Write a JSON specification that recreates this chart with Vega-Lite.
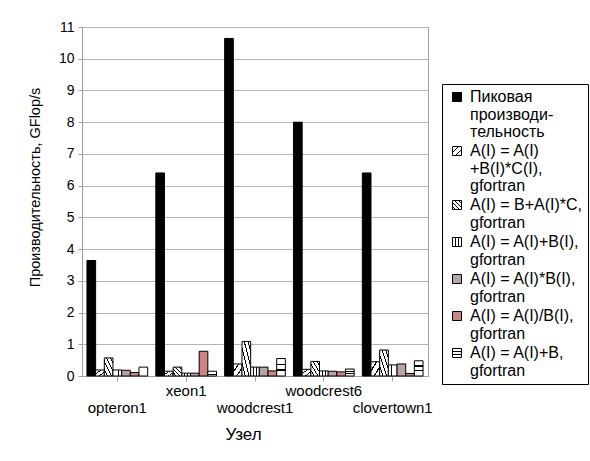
{
  "$schema": "https://vega.github.io/schema/vega-lite/v6.json",
  "width": 346,
  "height": 349,
  "autosize": {"type": "none"},
  "padding": {"left": 82, "top": 27, "right": 162, "bottom": 85},
  "background": "white",
  "config": {
    "font": "Liberation Sans",
    "view": {"stroke": "#a0a0a0", "strokeWidth": 1},
    "style": {"guide-label": {"lineHeight": 17.5}}
  },
  "datasets": {
    "perf": [
      {"node": "opteron1", "series": "Пиковая производительность", "value": 3.64},
      {"node": "opteron1", "series": "A(I) = A(I)+B(I)*C(I), gfortran", "value": 0.19},
      {"node": "opteron1", "series": "A(I) = B+A(I)*C, gfortran", "value": 0.57},
      {"node": "opteron1", "series": "A(I) = A(I)+B(I), gfortran", "value": 0.19},
      {"node": "opteron1", "series": "A(I) = A(I)*B(I), gfortran", "value": 0.18},
      {"node": "opteron1", "series": "A(I) = A(I)/B(I), gfortran", "value": 0.11},
      {"node": "opteron1", "series": "A(I) = A(I)+B, gfortran", "value": 0.28},
      {"node": "xeon1", "series": "Пиковая производительность", "value": 6.4},
      {"node": "xeon1", "series": "A(I) = A(I)+B(I)*C(I), gfortran", "value": 0.15},
      {"node": "xeon1", "series": "A(I) = B+A(I)*C, gfortran", "value": 0.28},
      {"node": "xeon1", "series": "A(I) = A(I)+B(I), gfortran", "value": 0.09},
      {"node": "xeon1", "series": "A(I) = A(I)*B(I), gfortran", "value": 0.09},
      {"node": "xeon1", "series": "A(I) = A(I)/B(I), gfortran", "value": 0.78},
      {"node": "xeon1", "series": "A(I) = A(I)+B, gfortran", "value": 0.15},
      {"node": "woodcrest1", "series": "Пиковая производительность", "value": 10.64},
      {"node": "woodcrest1", "series": "A(I) = A(I)+B(I)*C(I), gfortran", "value": 0.38},
      {"node": "woodcrest1", "series": "A(I) = B+A(I)*C, gfortran", "value": 1.09},
      {"node": "woodcrest1", "series": "A(I) = A(I)+B(I), gfortran", "value": 0.28},
      {"node": "woodcrest1", "series": "A(I) = A(I)*B(I), gfortran", "value": 0.28},
      {"node": "woodcrest1", "series": "A(I) = A(I)/B(I), gfortran", "value": 0.16},
      {"node": "woodcrest1", "series": "A(I) = A(I)+B, gfortran", "value": 0.55},
      {"node": "woodcrest6", "series": "Пиковая производительность", "value": 8.0},
      {"node": "woodcrest6", "series": "A(I) = A(I)+B(I)*C(I), gfortran", "value": 0.21},
      {"node": "woodcrest6", "series": "A(I) = B+A(I)*C, gfortran", "value": 0.46},
      {"node": "woodcrest6", "series": "A(I) = A(I)+B(I), gfortran", "value": 0.16},
      {"node": "woodcrest6", "series": "A(I) = A(I)*B(I), gfortran", "value": 0.15},
      {"node": "woodcrest6", "series": "A(I) = A(I)/B(I), gfortran", "value": 0.13},
      {"node": "woodcrest6", "series": "A(I) = A(I)+B, gfortran", "value": 0.22},
      {"node": "clovertown1", "series": "Пиковая производительность", "value": 6.4},
      {"node": "clovertown1", "series": "A(I) = A(I)+B(I)*C(I), gfortran", "value": 0.45},
      {"node": "clovertown1", "series": "A(I) = B+A(I)*C, gfortran", "value": 0.82},
      {"node": "clovertown1", "series": "A(I) = A(I)+B(I), gfortran", "value": 0.35},
      {"node": "clovertown1", "series": "A(I) = A(I)*B(I), gfortran", "value": 0.38},
      {"node": "clovertown1", "series": "A(I) = A(I)/B(I), gfortran", "value": 0.08},
      {"node": "clovertown1", "series": "A(I) = A(I)+B, gfortran", "value": 0.48}
    ]
  },
  "data": {"name": "perf"},
  "mark": {"type": "bar", "stroke": "black", "strokeWidth": 1},
  "encoding": {
    "x": {
      "field": "node",
      "type": "nominal",
      "sort": ["opteron1", "xeon1", "woodcrest1", "woodcrest6", "clovertown1"],
      "scale": {"paddingInner": 0.118, "paddingOuter": 0.072},
      "axis": {
        "title": "Узел",
        "titleFont": "Liberation Sans",
        "titleFontSize": 17,
        "titleFontWeight": "normal",
        "titleColor": "black",
        "titlePadding": 11,
        "titleX": 161,
        "labelAngle": 0,
        "labelFontSize": 15,
        "labelColor": "black",
        "labelPadding": 2,
        "labelBaseline": "top",
        "labelOverlap": false,
        "labelExpr": "(datum.value == 'xeon1' || datum.value == 'woodcrest6') ? [datum.label] : ['', datum.label]",
        "tickSize": 5,
        "tickColor": "#a0a0a0",
        "domainColor": "#a0a0a0"
      }
    },
    "xOffset": {
      "field": "series",
      "sort": ["Пиковая производительность", "A(I) = A(I)+B(I)*C(I), gfortran", "A(I) = B+A(I)*C, gfortran", "A(I) = A(I)+B(I), gfortran", "A(I) = A(I)*B(I), gfortran", "A(I) = A(I)/B(I), gfortran", "A(I) = A(I)+B, gfortran"],
      "scale": {"paddingInner": 0, "paddingOuter": 0}
    },
    "y": {
      "field": "value",
      "type": "quantitative",
      "scale": {"domain": [0, 11], "nice": false},
      "axis": {
        "title": "Производительность, GFlop/s",
        "titleFont": "Liberation Sans",
        "titleFontSize": 14.5,
        "titleFontWeight": "normal",
        "titleColor": "black",
        "titlePadding": 16,
        "titleY": 160,
        "values": [0, 1, 2, 3, 4, 5, 6, 7, 8, 9, 10, 11],
        "labelFontSize": 14,
        "labelColor": "black",
        "labelPadding": 4,
        "tickSize": 4,
        "tickColor": "#a0a0a0",
        "domainColor": "#a0a0a0",
        "gridColor": "#b4b4b4",
        "gridOpacity": 1
      }
    },
    "fill": {
      "field": "series",
      "type": "nominal",
      "scale": {
        "domain": ["Пиковая производительность", "A(I) = A(I)+B(I)*C(I), gfortran", "A(I) = B+A(I)*C, gfortran", "A(I) = A(I)+B(I), gfortran", "A(I) = A(I)*B(I), gfortran", "A(I) = A(I)/B(I), gfortran", "A(I) = A(I)+B, gfortran"],
        "range": [
          "black",
          {"expr": "{gradient: 'linear', x1: 0, y1: 0, x2: 1, y2: 1, stops: [{offset: 0, color: 'white'}, {offset: 0.28, color: 'white'}, {offset: 0.28, color: 'black'}, {offset: 0.36, color: 'black'}, {offset: 0.36, color: 'white'}, {offset: 0.64, color: 'white'}, {offset: 0.64, color: 'black'}, {offset: 0.72, color: 'black'}, {offset: 0.72, color: 'white'}, {offset: 1, color: 'white'}]}"},
          {"expr": "{gradient: 'linear', x1: 0, y1: 1, x2: 1, y2: 0, stops: [{offset: 0, color: 'white'}, {offset: 0.16, color: 'white'}, {offset: 0.16, color: 'black'}, {offset: 0.22, color: 'black'}, {offset: 0.22, color: 'white'}, {offset: 0.38, color: 'white'}, {offset: 0.38, color: 'black'}, {offset: 0.44, color: 'black'}, {offset: 0.44, color: 'white'}, {offset: 0.6, color: 'white'}, {offset: 0.6, color: 'black'}, {offset: 0.66, color: 'black'}, {offset: 0.66, color: 'white'}, {offset: 0.82, color: 'white'}, {offset: 0.82, color: 'black'}, {offset: 0.88, color: 'black'}, {offset: 0.88, color: 'white'}, {offset: 1, color: 'white'}]}"},
          {"expr": "{gradient: 'linear', x1: 0, y1: 0, x2: 1, y2: 0, stops: [{offset: 0, color: 'white'}, {offset: 0.3, color: 'white'}, {offset: 0.3, color: 'black'}, {offset: 0.4, color: 'black'}, {offset: 0.4, color: 'white'}, {offset: 0.6, color: 'white'}, {offset: 0.6, color: 'black'}, {offset: 0.7, color: 'black'}, {offset: 0.7, color: 'white'}, {offset: 1, color: 'white'}]}"},
          "#b8a4a4",
          "#cf8484",
          {"expr": "{gradient: 'linear', x1: 0, y1: 0, x2: 0, y2: 1, stops: [{offset: 0, color: 'white'}, {offset: 0.3, color: 'white'}, {offset: 0.3, color: 'black'}, {offset: 0.38, color: 'black'}, {offset: 0.38, color: 'white'}, {offset: 0.62, color: 'white'}, {offset: 0.62, color: 'black'}, {offset: 0.7, color: 'black'}, {offset: 0.7, color: 'white'}, {offset: 1, color: 'white'}]}"}
        ]
      },
      "legend": {
        "title": null,
        "orient": "none",
        "legendX": 360,
        "legendY": 57,
        "strokeColor": "black",
        "fillColor": "white",
        "padding": 5,
        "labelFontSize": 16,
        "labelColor": "black",
        "labelLimit": 200,
        "labelBaseline": "middle",
        "labelOffset": 5,
        "symbolOffset": 2,
        "rowPadding": 3,
        "symbolType": "square",
        "symbolSize": 81,
        "symbolStrokeColor": "black",
        "symbolStrokeWidth": 1,
        "labelExpr": "datum.label == 'Пиковая производительность' ? ['Пиковая', 'производи-', 'тельность'] : datum.label == 'A(I) = A(I)+B(I)*C(I), gfortran' ? ['A(I) = A(I)', '+B(I)*C(I),', 'gfortran'] : [replace(datum.label, ' gfortran', ''), 'gfortran']"
      }
    }
  }
}
